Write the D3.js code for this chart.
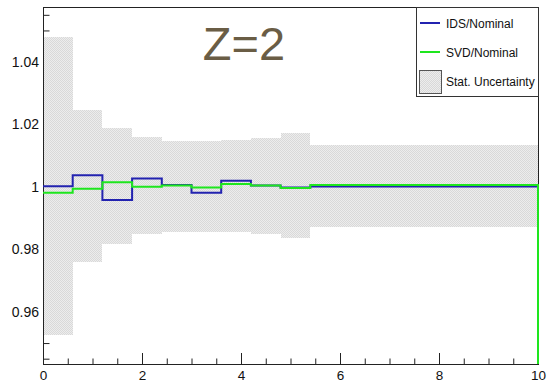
<!DOCTYPE html>
<html>
<head>
<meta charset="utf-8">
<script src="https://cdn.jsdelivr.net/npm/d3@7"></script>
<style>
  body { margin: 0; background: #fff; }
  text { font-family: "Liberation Sans", Arial, sans-serif; }
</style>
</head>
<body>
<div id="vis"></div>
<script>

// Data ----------------------------------------------------------------------

var binEdges = [0, 0.6, 1.2, 1.8, 2.4, 3.0, 3.6, 4.2, 4.8, 5.4, 10];

var idsRatio = [1.0002, 1.0037, 0.9958, 1.0026, 1.0006, 0.9981, 1.0019, 1.0004, 0.9998, 1.0001];
var svdRatio = [0.9981, 0.9994, 1.0014, 1.0000, 1.0004, 0.9998, 1.0009, 1.0004, 0.9996, 1.0006];

var statHigh = [1.0478, 1.0245, 1.0189, 1.0158, 1.0147, 1.0147, 1.0149, 1.0157, 1.0173, 1.0133];
var statLow  = [0.9525, 0.9760, 0.9817, 0.9848, 0.9856, 0.9856, 0.9854, 0.9848, 0.9835, 0.9872];

var xMajorTicks = [0, 2, 4, 6, 8, 10];
var xMinorTicks = d3.range(0, 10.01, 0.5);
var yMajorTicks = [0.96, 0.98, 1.00, 1.02, 1.04];
var yTickLabels = ["0.96", "0.98", "1", "1.02", "1.04"];
var yMinorTicks = d3.range(0.945, 1.0576, 0.005);

var seriesNames = ["IDS/Nominal", "SVD/Nominal", "Stat. Uncertainty"];
var titleText = "Z=2";

var idsColor = "#2323b0",
    svdColor = "#1ee61e";


// Setup ---------------------------------------------------------------------

var W = 547, H = 382;
var frame = {left: 43, right: 538, top: 7, bottom: 364};

var svg = d3.select("#vis").append("svg")
  .attr("width", W)
  .attr("height", H);

var x = d3.scaleLinear()
  .domain([0, 10])
  .range([frame.left, frame.right]);

var y = d3.scaleLinear()
  .domain([0.9433, 1.0575])
  .range([frame.bottom, frame.top]);

// checker fill like ROOT's dotted fill style
var defs = svg.append("defs");
var pat = defs.append("pattern")
  .attr("id", "statFill")
  .attr("patternUnits", "userSpaceOnUse")
  .attr("width", 2)
  .attr("height", 2);
pat.append("rect").attr("x", 0).attr("y", 0).attr("width", 1).attr("height", 1).attr("fill", "#d9d9d9");
pat.append("rect").attr("x", 1).attr("y", 1).attr("width", 1).attr("height", 1).attr("fill", "#d9d9d9");
pat.append("rect").attr("x", 1).attr("y", 0).attr("width", 1).attr("height", 1).attr("fill", "#ededed");
pat.append("rect").attr("x", 0).attr("y", 1).attr("width", 1).attr("height", 1).attr("fill", "#ededed");


// Axes (ticks point inward) -------------------------------------------------

function styleAxis(g) {
  g.select(".domain").remove();
  g.selectAll("line").attr("stroke", "#222").attr("stroke-width", 1);
  g.selectAll("text")
    .attr("fill", "#111")
    .style("font-family", "'Liberation Sans', Arial, sans-serif")
    .style("font-size", "14px");
}

svg.append("g")
  .attr("transform", "translate(0," + frame.bottom + ")")
  .call(d3.axisBottom(x).tickValues(xMinorTicks).tickSizeInner(-5.5).tickSizeOuter(0).tickFormat(""))
  .call(styleAxis);

var xAxisG = svg.append("g")
  .attr("transform", "translate(0," + frame.bottom + ")")
  .call(d3.axisBottom(x).tickValues(xMajorTicks).tickSizeInner(-11).tickSizeOuter(0).tickPadding(6)
    .tickFormat(function(d) { return d3.format("d")(d); }))
  .call(styleAxis);
xAxisG.selectAll("text").style("font-size", "13.5px");

svg.append("g")
  .attr("transform", "translate(" + frame.left + ",0)")
  .call(d3.axisLeft(y).tickValues(yMinorTicks).tickSizeInner(-6.5).tickSizeOuter(0).tickFormat(""))
  .call(styleAxis);

svg.append("g")
  .attr("transform", "translate(" + frame.left + ",0)")
  .call(d3.axisLeft(y).tickValues(yMajorTicks).tickSizeInner(-13).tickSizeOuter(0).tickPadding(4)
    .tickFormat(function(d, i) { return yTickLabels[i]; }))
  .call(styleAxis);


// Stat. uncertainty band ----------------------------------------------------

var bins = d3.range(statHigh.length).map(function(i) {
  return {x0: binEdges[i], x1: binEdges[i + 1], lo: statLow[i], hi: statHigh[i],
          ids: idsRatio[i], svd: svdRatio[i]};
});

svg.append("g").selectAll("rect")
  .data(bins)
  .enter().append("rect")
  .attr("x", function(d) { return x(d.x0); })
  .attr("width", function(d) { return x(d.x1) - x(d.x0); })
  .attr("y", function(d) { return y(d.hi); })
  .attr("height", function(d) { return y(d.lo) - y(d.hi); })
  .attr("fill", "url(#statFill)")
  .attr("shape-rendering", "crispEdges");


// Frame ---------------------------------------------------------------------

svg.append("rect")
  .attr("x", frame.left + 0.5)
  .attr("y", frame.top + 0.5)
  .attr("width", frame.right - frame.left)
  .attr("height", frame.bottom - frame.top)
  .attr("fill", "none")
  .attr("stroke", "#222")
  .attr("stroke-width", 1);


// Histogram outlines --------------------------------------------------------

function stepPoints(key) {
  var pts = [];
  bins.forEach(function(d) {
    pts.push([d.x0, d[key]]);
    pts.push([d.x1, d[key]]);
  });
  // ROOT closes the last bin down to the bottom of the frame
  pts.push([binEdges[binEdges.length - 1], y.domain()[0]]);
  return pts;
}

var line = d3.line()
  .x(function(p) { return x(p[0]); })
  .y(function(p) { return y(p[1]); });

svg.append("path")
  .attr("d", line(stepPoints("ids")))
  .attr("fill", "none")
  .attr("stroke", idsColor)
  .attr("stroke-width", 2);

svg.append("path")
  .attr("d", line(stepPoints("svd")))
  .attr("fill", "none")
  .attr("stroke", svdColor)
  .attr("stroke-width", 2);


// Title ---------------------------------------------------------------------

svg.append("text")
  .attr("x", 244)
  .attr("y", 60)
  .attr("text-anchor", "middle")
  .attr("fill", "#6a5d45")
  .style("font-size", "47px")
  .text(titleText);


// Legend --------------------------------------------------------------------

var legend = svg.append("g").attr("transform", "translate(416,7)");

legend.append("rect")
  .attr("x", 0.5).attr("y", 0.5)
  .attr("width", 122).attr("height", 89)
  .attr("fill", "#fff")
  .attr("stroke", "#333");

var legendRows = [
  {name: seriesNames[0], color: idsColor, y: 16},
  {name: seriesNames[1], color: svdColor, y: 45},
  {name: seriesNames[2], color: null, y: 74}
];

legendRows.forEach(function(r) {
  if (r.color) {
    legend.append("line")
      .attr("x1", 4).attr("x2", 24)
      .attr("y1", r.y).attr("y2", r.y)
      .attr("stroke", r.color)
      .attr("stroke-width", 2);
  } else {
    legend.append("rect")
      .attr("x", 3.5).attr("y", r.y - 10.5)
      .attr("width", 22).attr("height", 23)
      .attr("fill", "url(#statFill)")
      .attr("stroke", "#555");
  }
  legend.append("text")
    .attr("x", 30)
    .attr("y", r.y + 4.5)
    .attr("fill", "#111")
    .style("font-size", "12px")
    .text(r.name);
});

</script>
</body>
</html>
